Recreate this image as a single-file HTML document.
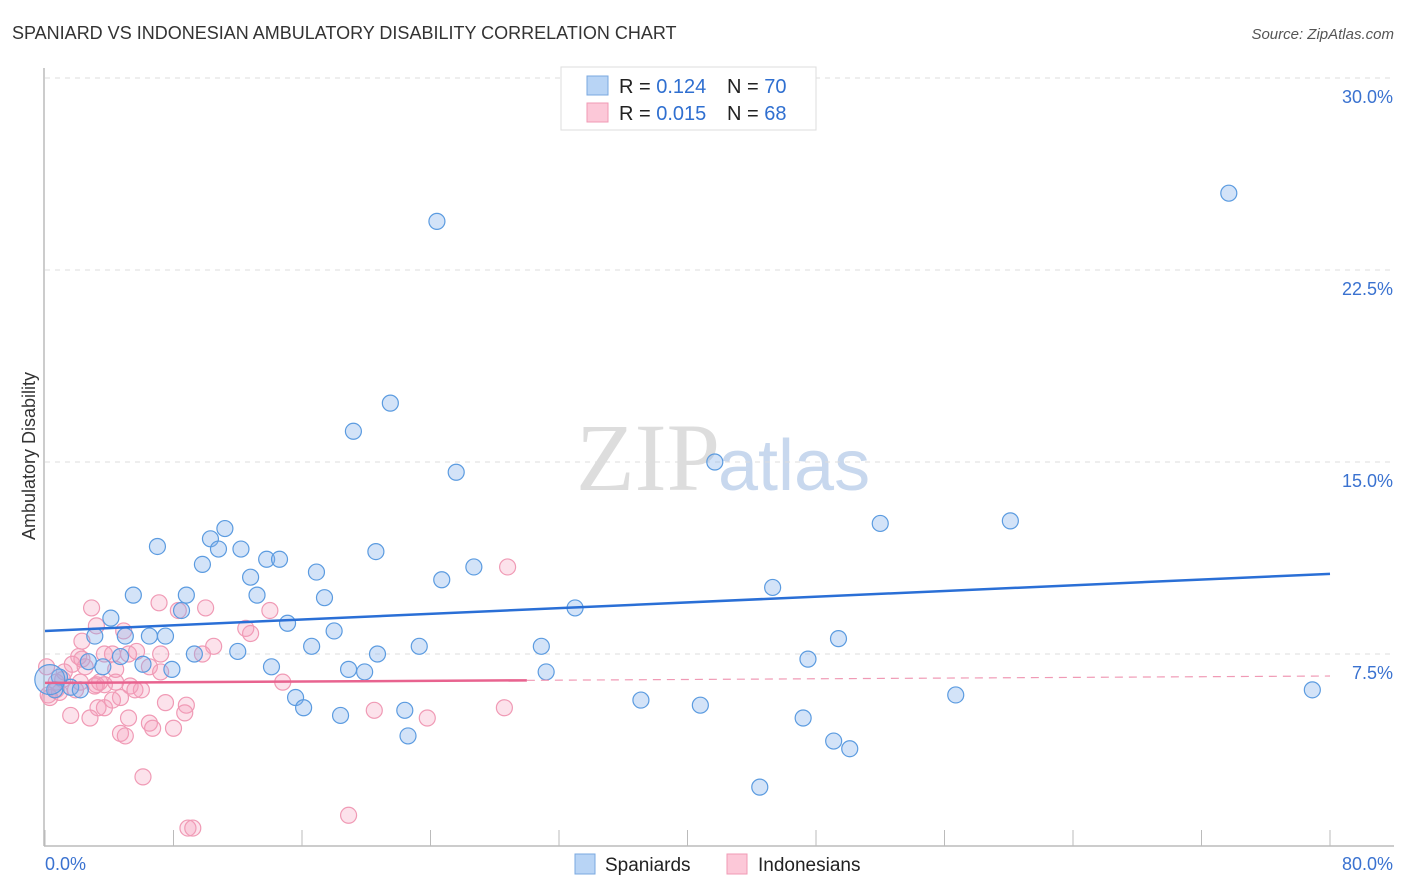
<!DOCTYPE html>
<html><head><meta charset="utf-8"><style>
body{margin:0;background:#fff;font-family:"Liberation Sans",sans-serif}
svg{display:block}
</style></head><body>
<svg id="chart" width="1406" height="892">
<text x="12" y="39" font-size="18" fill="#333">SPANIARD VS INDONESIAN AMBULATORY DISABILITY CORRELATION CHART</text>
<text x="1394" y="39" font-size="15" fill="#555" font-style="italic" text-anchor="end">Source: ZipAtlas.com</text>
<text x="35" y="456" font-size="18" fill="#333" text-anchor="middle" transform="rotate(-90 35 456)">Ambulatory Disability</text>
<text x="720" y="490" font-size="96" fill="#ddd" font-family="Liberation Serif,serif" text-anchor="end">ZIP</text>
<text x="718" y="490" font-size="72" fill="#c8d8ee" text-anchor="start">atlas</text>
<g id="grid"></g><g id="axes"></g><g id="pts"></g><g id="trend"></g>
<g>
<rect x="561" y="67" width="255" height="63" fill="#fff" stroke="#ddd"/>
<rect x="587" y="76" width="21" height="19" fill="#b8d4f5" stroke="#7aa8e0"/>
<rect x="587" y="103" width="21" height="19" fill="#fcc8d8" stroke="#f09ab5"/>
<text x="619" y="93" font-size="20" fill="#222">R = <tspan fill="#2f6fd0">0.124</tspan></text>
<text x="727" y="93" font-size="20" fill="#222">N = <tspan fill="#2f6fd0">70</tspan></text>
<text x="619" y="120" font-size="20" fill="#222">R = <tspan fill="#2f6fd0">0.015</tspan></text>
<text x="727" y="120" font-size="20" fill="#222">N = <tspan fill="#2f6fd0">68</tspan></text>
</g>
<g>
<rect x="575" y="854" width="20" height="20" fill="#b8d4f5" stroke="#7aa8e0"/>
<text x="605" y="871" font-size="19" fill="#222">Spaniards</text>
<rect x="727" y="854" width="20" height="20" fill="#fcc8d8" stroke="#f09ab5"/>
<text x="758" y="871" font-size="19" fill="#222">Indonesians</text>
</g>
</svg>
<script>
const xTicks=[0,10,20,30,40,50,60,70,80];
const yTicks=[7.5,15,22.5,30];
const yTickLabels=["7.5%","15.0%","22.5%","30.0%"];
const xEndLabels=["0.0%","80.0%"];
const blueX=[24.4,73.7,21.5,19.2,25.6,41.7,52.0,60.1,7.0,10.3,11.2,10.8,12.2,13.8,14.6,20.6,9.8,12.8,16.9,24.7,26.7,45.3,5.5,8.8,13.2,17.4,8.5,4.1,33.0,15.1,3.1,5.0,6.5,7.5,18.0,49.4,12.0,16.6,23.3,30.9,9.3,4.7,2.7,6.1,7.9,14.1,18.9,19.9,20.7,31.2,47.5,3.6,0.9,1.6,2.2,0.6,15.6,16.1,37.1,40.8,56.7,78.9,18.4,22.4,47.2,22.6,49.1,50.1,44.5,0.3];
const blueY=[24.4,25.5,17.3,16.2,14.6,15.0,12.6,12.7,11.7,12.0,12.4,11.6,11.6,11.2,11.2,11.5,11.0,10.5,10.7,10.4,10.9,10.1,9.8,9.8,9.8,9.7,9.2,8.9,9.3,8.7,8.2,8.2,8.2,8.2,8.4,8.1,7.6,7.8,7.8,7.8,7.5,7.4,7.2,7.1,6.9,7.0,6.9,6.8,7.5,6.8,7.3,7.0,6.6,6.2,6.1,6.1,5.8,5.4,5.7,5.5,5.9,6.1,5.1,5.3,5.0,4.3,4.1,3.8,2.3,6.5];
const pinkX=[2.9,7.1,10.0,14.0,8.3,4.9,2.3,12.5,12.8,10.5,3.2,3.7,4.2,5.2,2.1,5.7,7.2,9.8,1.7,2.5,4.4,6.5,7.2,0.1,1.2,2.2,3.2,3.7,4.4,5.3,6.0,5.6,4.7,0.7,0.3,0.9,14.8,7.5,8.8,3.3,8.7,1.6,2.8,5.2,3.7,6.5,6.7,8.0,4.7,5.0,20.5,23.8,28.6,28.8,6.1,18.9,8.9,9.2,0.7,1.9,2.3,3.1,1.1,0.2,4.2,3.4];
const pinkY=[9.3,9.5,9.3,9.2,9.2,8.4,8.0,8.5,8.3,7.8,8.6,7.5,7.5,7.5,7.4,7.6,7.5,7.5,7.1,7.0,6.9,7.0,6.8,7.0,6.8,6.4,6.3,6.3,6.4,6.25,6.1,6.1,5.8,6.1,5.8,6.0,6.4,5.6,5.5,5.4,5.2,5.1,5.0,5.0,5.4,4.8,4.6,4.6,4.4,4.3,5.3,5.0,5.4,10.9,2.7,1.2,0.7,0.7,6.4,6.1,7.3,6.25,6.5,5.9,5.7,6.4];
const blueTrend=[8.40,10.63];
const pinkTrend=[6.37,6.64];
const pinkSolidEnd=30;
const NS="http://www.w3.org/2000/svg";
const X=v=>45+v*(1285/80);
const Y=v=>846-v*25.6;
function mk(tag,attrs,parent){const e=document.createElementNS(NS,tag);for(const k in attrs)e.setAttribute(k,attrs[k]);document.getElementById(parent).appendChild(e);return e;}
yTicks.forEach((t,i)=>{
 const l=mk('line',{x1:45,x2:1394,y1:Y(t),y2:Y(t),stroke:'#ddd','stroke-dasharray':'5,5'},'grid');
 
 
 const tx=mk('text',{x:1393,y:Y(t)+25,'font-size':18,fill:'#3a72d0','text-anchor':'end'},'grid');
 tx.textContent=yTickLabels[i];
 
 
});
let a=mk('line',{x1:44,x2:44,y1:68,y2:846,stroke:'#bbb','stroke-width':1.5},'axes');


a=mk('line',{x1:44,x2:1394,y1:846,y2:846,stroke:'#bbb','stroke-width':1.5},'axes');


for(let v=0;v<=80;v+=8){const t=mk('line',{x1:X(v),x2:X(v),y1:830,y2:846,stroke:'#bbb'},'axes');
 
 }
[[0,'start',45],[80,'end',1393]].forEach((d,i)=>{const t=mk('text',{x:d[2],y:870,'font-size':18,fill:'#3a72d0','text-anchor':d[1]},'axes');t.textContent=xEndLabels[i];
 
 });
pinkX.forEach((x,i)=>{const c=mk('circle',{cx:X(x),cy:Y(pinkY[i]),r:8,fill:'rgba(245,160,190,0.3)',stroke:'#f09ab5','stroke-width':1.2},'pts');
 
 });
blueX.forEach((x,i)=>{const c=mk('circle',{cx:X(x),cy:Y(blueY[i]),r:i===blueX.length-1?15:8,fill:'rgba(130,175,235,0.35)',stroke:'#5b9be0','stroke-width':1.2},'pts');
 
 });
let tl=mk('line',{x1:X(0),y1:Y(blueTrend[0]),x2:X(80),y2:Y(blueTrend[1]),stroke:'#2a6fd6','stroke-width':2.5},'trend');


const pAt=v=>pinkTrend[0]+(pinkTrend[1]-pinkTrend[0])*v/80;
tl=mk('line',{x1:X(0),y1:Y(pinkTrend[0]),x2:X(pinkSolidEnd),y2:Y(pAt(pinkSolidEnd)),stroke:'#e8638f','stroke-width':2.5},'trend');


tl=mk('line',{x1:X(pinkSolidEnd),y1:Y(pAt(pinkSolidEnd)),x2:X(80),y2:Y(pinkTrend[1]),stroke:'#f09ab5','stroke-width':1.2,'stroke-dasharray':'8,6'},'trend');


</script>
</body></html>
